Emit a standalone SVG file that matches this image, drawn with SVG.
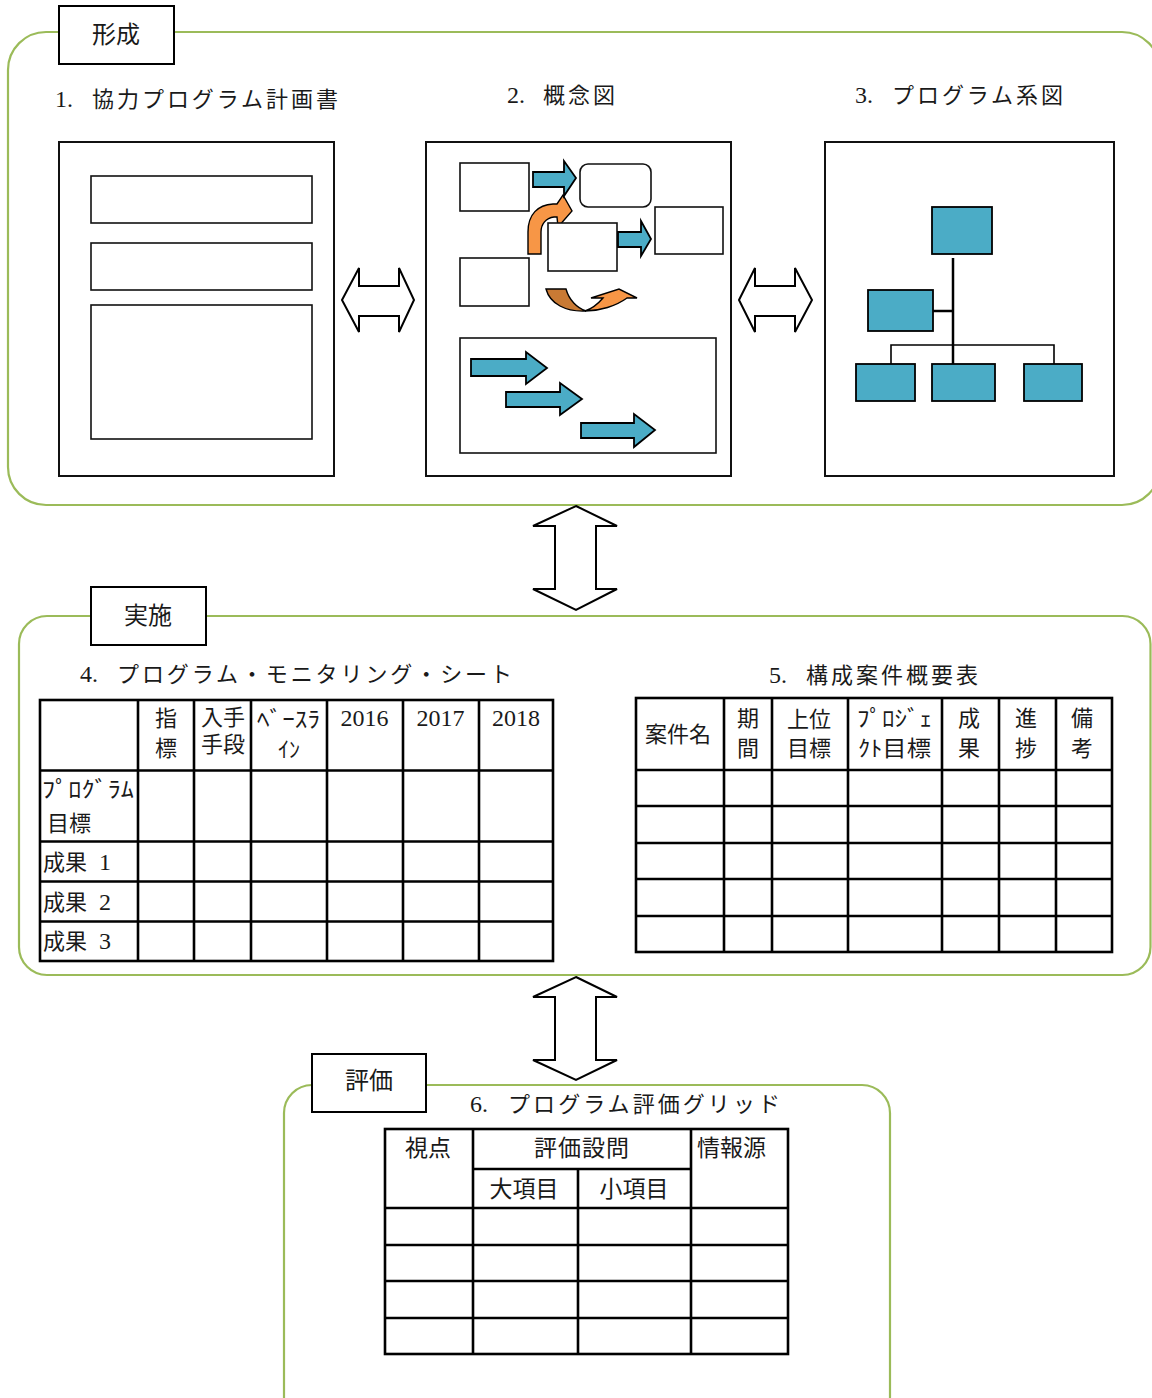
<svg xmlns="http://www.w3.org/2000/svg" width="1152" height="1398" viewBox="0 0 1152 1398">
<style>
.frame{fill:none;stroke:#9BBB59;stroke-width:2.2}
.lbl{fill:#fff;stroke:#000;stroke-width:2}
.doc{fill:#fff;stroke:#111;stroke-width:2}
.box{fill:#fff;stroke:#111;stroke-width:1.6}
.blue{fill:#4BACC6;stroke:#000;stroke-width:1.8}
.orange{fill:#F79646;stroke:#000;stroke-width:1.4}
.orangeD{fill:#C97A34;stroke:#000;stroke-width:1.4}
.dbl{fill:#fff;stroke:#000;stroke-width:2}
.grid{fill:none;stroke:#000;stroke-width:2.6}
.t{font-family:"Liberation Serif","Noto Sans CJK JP",serif;fill:#1a1a1a;font-size:22px}
.num{font-size:24px}
.big{font-size:24px}
.mid{text-anchor:middle}
</style>

<!-- Section frames -->
<g id="frame-keisei"><rect class="frame" x="8" y="32" width="1152" height="473" rx="38"/></g>
<g id="frame-jisshi"><rect class="frame" x="19" y="616" width="1131.5" height="359" rx="28"/></g>
<g id="frame-hyouka"><rect class="frame" x="284" y="1085" width="606" height="340" rx="28"/></g>

<!-- Section labels -->
<g id="label-keisei"><rect class="lbl" x="59" y="6" width="115" height="58"/><text class="t big mid" x="116" y="43">形成</text></g>
<g id="label-jisshi"><rect class="lbl" x="91" y="587" width="115" height="58"/><text class="t big mid" x="148" y="624">実施</text></g>
<g id="label-hyouka"><rect class="lbl" x="312" y="1054" width="114" height="58"/><text class="t big mid" x="369" y="1089">評価</text></g>

<!-- Titles -->
<g id="title-1"><text class="t num" x="55" y="107">1.</text><text class="t" x="92" y="107" textLength="246" lengthAdjust="spacing">協力プログラム計画書</text></g>
<g id="title-2"><text class="t num" x="507" y="103">2.</text><text class="t" x="543" y="103" textLength="72" lengthAdjust="spacing">概念図</text></g>
<g id="title-3"><text class="t num" x="855" y="103">3.</text><text class="t" x="892" y="103" textLength="171" lengthAdjust="spacing">プログラム系図</text></g>
<g id="title-4"><text class="t num" x="80" y="682">4.</text><text class="t" x="117" y="682" textLength="395" lengthAdjust="spacing">プログラム・モニタリング・シート</text></g>
<g id="title-5"><text class="t num" x="769" y="683">5.</text><text class="t" x="806" y="683" textLength="172" lengthAdjust="spacing">構成案件概要表</text></g>
<g id="title-6"><text class="t num" x="470" y="1112">6.</text><text class="t" x="508" y="1112" textLength="272" lengthAdjust="spacing">プログラム評価グリッド</text></g>

<!-- Document 1: plan -->
<g id="doc-plan">
<rect class="doc" x="59" y="142" width="275" height="334"/>
<rect class="box" x="91" y="176" width="221" height="47"/>
<rect class="box" x="91" y="243" width="221" height="47"/>
<rect class="box" x="91" y="305" width="221" height="134"/>
</g>

<!-- Document 2: concept diagram -->
<g id="doc-concept">
<rect class="doc" x="426" y="142" width="305" height="334"/>
<rect class="box" x="460" y="163" width="69" height="48"/>
<rect class="box" x="580" y="164" width="71" height="43" rx="8"/>
<rect class="box" x="655" y="207" width="68" height="47"/>
<rect class="box" x="460" y="258" width="69" height="48"/>
<path class="orange" d="M528,254 L528,232 C528,214 538,205 553,204 L557,204 L563,195 L572,211 L558,227 L557,217 L554,217 C546,218 541,224 541,232 L541,254 Z"/>
<rect class="box" x="548" y="223" width="69" height="48"/>
<polygon class="blue" points="533,172 564,172 564,161 576,178 564,196 564,187 533,187"/>
<polygon class="blue" points="618,232 641,232 641,221 651,239 641,256 641,247 618,247"/>
<path class="orangeD" d="M546,289 L566,289 C569,300 577,308 586,311 C566,312 550,304 546,289 Z"/>
<path class="orange" d="M585,311 C600,311 616,306 627,298 L637,298 L619,289 L591,298 L603,298 C597,305 591,309 585,311 Z"/>
<rect class="box" x="460" y="338" width="256" height="115"/>
<polygon class="blue" points="471,359 526,359 526,352 547,368 526,384 526,376 471,376"/>
<polygon class="blue" points="506,392 560,392 560,383 582,399 560,415 560,407 506,407"/>
<polygon class="blue" points="581,423 634,423 634,414 655,430 634,447 634,438 581,438"/>
</g>

<!-- Document 3: program tree -->
<g id="doc-tree">
<rect class="doc" x="825" y="142" width="289" height="334"/>
<line x1="953" y1="258" x2="953" y2="364" stroke="#000" stroke-width="2.5"/>
<line x1="933" y1="311" x2="953" y2="311" stroke="#000" stroke-width="2.5"/>
<polyline points="891,364 891,345 1054,345 1054,364" fill="none" stroke="#000" stroke-width="1.6"/>
<rect class="blue" x="932" y="207" width="60" height="47"/>
<rect class="blue" x="868" y="290" width="65" height="41"/>
<rect class="blue" x="856" y="364" width="59" height="37"/>
<rect class="blue" x="932" y="364" width="63" height="37"/>
<rect class="blue" x="1024" y="364" width="58" height="37"/>
</g>

<!-- Table 4 -->
<g id="table-monitoring">
<rect class="grid" x="40" y="700" width="513" height="261"/>
<path class="grid" d="M138,700V961 M194,700V961 M251,700V961 M327,700V961 M403,700V961 M479,700V961 M40,770.5H553 M40,841.5H553 M40,881.5H553 M40,921.5H553"/>
<text class="t mid" x="166" y="726">指</text>
<text class="t mid" x="166" y="756">標</text>
<text class="t mid" x="223" y="725">入手</text>
<text class="t mid" x="223" y="752">手段</text>
<text class="t" x="257" y="727" textLength="63" lengthAdjust="spacingAndGlyphs">ﾍﾞｰｽﾗ</text>
<text class="t mid" x="289" y="757">ｲﾝ</text>
<text class="t mid" x="364.5" y="726" style="font-size:24px">2016</text>
<text class="t mid" x="440.5" y="726" style="font-size:24px">2017</text>
<text class="t mid" x="516" y="726" style="font-size:24px">2018</text>
<text class="t" x="42" y="797" textLength="92" lengthAdjust="spacingAndGlyphs">ﾌﾟﾛｸﾞﾗﾑ</text>
<text class="t" x="47" y="831">目標</text>
<text class="t" x="43" y="870">成果 <tspan x="99" style="font-size:24px">1</tspan></text>
<text class="t" x="43" y="910">成果 <tspan x="99" style="font-size:24px">2</tspan></text>
<text class="t" x="43" y="949">成果 <tspan x="99" style="font-size:24px">3</tspan></text>
</g>

<!-- Table 5 -->
<g id="table-projects">
<rect class="grid" x="636" y="698" width="476" height="254"/>
<path class="grid" d="M724,698V952 M772,698V952 M848,698V952 M942,698V952 M999,698V952 M1056,698V952 M636,770H1112 M636,806H1112 M636,843H1112 M636,879H1112 M636,916H1112"/>
<text class="t mid" x="678" y="742">案件名</text>
<text class="t mid" x="748" y="726">期</text>
<text class="t mid" x="748" y="756">間</text>
<text class="t mid" x="809" y="727">上位</text>
<text class="t mid" x="809" y="756">目標</text>
<text class="t" x="857" y="726" textLength="75" lengthAdjust="spacingAndGlyphs">ﾌﾟﾛｼﾞｪ</text>
<text class="t" x="858" y="756" textLength="73" lengthAdjust="spacingAndGlyphs">ｸﾄ目標</text>
<text class="t mid" x="969" y="726">成</text>
<text class="t mid" x="969" y="756">果</text>
<text class="t mid" x="1026" y="726">進</text>
<text class="t mid" x="1026" y="756">捗</text>
<text class="t mid" x="1082" y="726">備</text>
<text class="t mid" x="1082" y="756">考</text>
</g>

<!-- Table 6 -->
<g id="table-evaluation">
<rect class="grid" x="385" y="1129" width="403" height="225"/>
<path class="grid" d="M473,1129V1354 M691,1129V1354 M578,1169V1354 M473,1169H691 M385,1208H788 M385,1245H788 M385,1281H788 M385,1318H788"/>
<text class="t mid" x="428" y="1156" style="font-size:23px">視点</text>
<text class="t mid" x="582" y="1156" style="font-size:23px;letter-spacing:1px">評価設問</text>
<text class="t" x="697" y="1156" style="font-size:23px">情報源</text>
<text class="t mid" x="524" y="1197" style="font-size:23px">大項目</text>
<text class="t mid" x="634" y="1197" style="font-size:23px">小項目</text>
</g>

<!-- Connectors -->
<g id="connectors">
<polygon class="dbl" points="342,300 359,268 359,286 399,286 399,268 414,300 399,332 399,316 359,316 359,332"/>
<polygon class="dbl" points="739,300 755,268 755,286 795,286 795,268 812,300 795,332 795,316 755,316 755,332"/>
<polygon class="dbl" points="576,506 617,526 596,526 596,589 617,589 576,610 533,589 555,589 555,526 533,526"/>
<polygon class="dbl" points="576,977 617,997 596,997 596,1060 617,1060 576,1080 533,1060 555,1060 555,997 533,997"/>
</g>
</svg>
